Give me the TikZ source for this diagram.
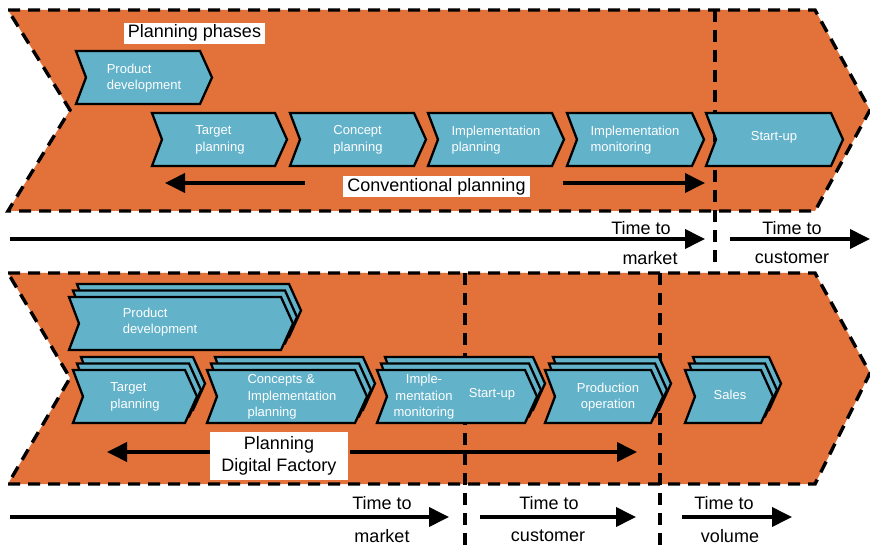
\documentclass[tikz,border=0pt]{standalone}
\usepackage{fontspec}
\setmainfont{Liberation Sans}
\usetikzlibrary{arrows.meta}

\definecolor{phaseorange}{RGB}{226,113,58}
\definecolor{phaseblue}{RGB}{98,178,202}

% chevron outline: left x, top y, width up to the tip, height
\newcommand\chevshape[4]{(#1,#2) -- ++({#3-12},0) -- ++(12,{#4/2}) -- ++(-12,{#4/2}) -- ++({-(#3-12)},0) -- ++(10,{-#4/2}) -- cycle}
% three chevrons stacked, the front one at the given place
\newcommand\stackchev[4]{%
  \path[chevbox] \chevshape{#1+8}{#2-13}{#3}{#4};
  \path[chevbox] \chevshape{#1+4}{#2-6.5}{#3}{#4};
  \path[chevbox] \chevshape{#1}{#2}{#3}{#4};}

\tikzset{
  stagearea/.style={fill=phaseorange, draw=black, line width=3.4pt, dash pattern=on 12pt off 8pt, line join=miter},
  milestone/.style={draw=black, line width=3.6pt, dash pattern=on 12pt off 8pt},
  chevbox/.style={fill=phaseblue, draw=black, line width=2.3pt, line join=miter},
  chevtext/.style={text=white, font=\fontsize{13}{16.5}\selectfont, align=left, inner sep=0pt},
  captionbox/.style={fill=white, font=\fontsize{18}{22}\selectfont, inner xsep=4pt, inner ysep=2pt, text height=13pt, text depth=4pt},
  bigarrow/.style={line width=3.8pt, -{Triangle[length=20pt,width=19pt]}},
  timetext/.style={font=\fontsize{18}{20}\selectfont, inner sep=0pt},
}

\begin{document}
\begin{tikzpicture}[x=1pt, y=-1pt]
\useasboundingbox (0,0) rectangle (870,545);

% ---------- conventional planning ----------
\path[stagearea] (8,10) -- (815,10) -- (870,110) -- (815,211) -- (8,211) -- (70,110) -- cycle;
\coordinate (m1a) at (715,10);
\coordinate (m1b) at (715,267);
\draw[milestone] (m1a) -- (m1b);

\node[captionbox] (phases) at (194.5,33.5) {Planning phases};

\path[chevbox] \chevshape{76}{51}{136}{53};
\node[chevtext] (pd1) at (144,78) {Product\\development};

\path[chevbox] \chevshape{152}{113}{135}{53};
\node[chevtext] (tp1) at (220,140) {Target\\planning};
\path[chevbox] \chevshape{290}{113}{136}{53};
\node[chevtext] (cp1) at (358,140) {Concept\\planning};
\path[chevbox] \chevshape{428}{113}{136}{53};
\node[chevtext] (ip1) at (496,140) {Implementation\\planning};
\path[chevbox] \chevshape{567}{113}{137}{53};
\node[chevtext] (im1) at (635,140) {Implementation\\monitoring};
\path[chevbox] \chevshape{706}{113}{137}{53};
\node[chevtext] (su1) at (774,137) {Start-up};

\node[captionbox] (conv) at (436.5,187) {Conventional planning};
\coordinate (ca1) at (305,183);
\coordinate (ca2) at (165,183);
\coordinate (ca3) at (563,183);
\coordinate (ca4) at (705,183);
\draw[bigarrow] (ca1) -- (ca2);
\draw[bigarrow] (ca3) -- (ca4);

\coordinate (t1a) at (10,239);
\coordinate (t1b) at (705,239);
\coordinate (t1c) at (730,239);
\coordinate (t1d) at (870,239);
\draw[bigarrow] (t1a) -- (t1b);
\draw[bigarrow] (t1c) -- (t1d);
\node[timetext] (ttm1) at (641,228) {Time to};
\node[timetext] (mk1) at (650,258) {market};
\node[timetext] (ttc1) at (792,228) {Time to};
\node[timetext] (cu1) at (792,258) {customer};

% ---------- digital factory planning ----------
\path[stagearea] (8,273) -- (815,273) -- (870,373) -- (815,484) -- (8,484) -- (70,378) -- cycle;
\coordinate (m2a) at (465,273);
\coordinate (m2b) at (465,545);
\coordinate (m3a) at (660,273);
\coordinate (m3b) at (660,545);
\draw[milestone] (m2a) -- (m2b);
\draw[milestone] (m3a) -- (m3b);

\stackchev{69}{297}{224}{53}
\node[chevtext] (pd2) at (160,322) {Product\\development};

\stackchev{73}{370}{124}{53}
\node[chevtext] (tp2) at (135,397) {Target\\planning};
\stackchev{207}{370}{160}{53}
\node[chevtext] (cp2) at (292,397) {Concepts \&\\Implementation\\planning};
\stackchev{377}{370}{160}{53}
\node[chevtext, align=center] (im2) at (424,397) {Imple-\\mentation\\monitoring};
\node[chevtext] (su2) at (492,394) {Start-up};
\stackchev{545}{370}{118}{53}
\node[chevtext, align=center] (po2) at (608,397) {Production\\operation};
\stackchev{685}{370}{88}{53}
\node[chevtext] (sa2) at (730,395) {Sales};

\node[fill=white, font=\fontsize{18}{22}\selectfont, align=center, minimum width=138pt, minimum height=48pt, inner sep=0pt] (pdf) at (279,456) {Planning\\Digital Factory};
\coordinate (da1) at (210,452);
\coordinate (da2) at (107,452);
\coordinate (da3) at (350,452);
\coordinate (da4) at (637,452);
\draw[bigarrow] (da1) -- (da2);
\draw[bigarrow] (da3) -- (da4);

\coordinate (t2a) at (10,517);
\coordinate (t2b) at (449,517);
\coordinate (t2c) at (480,517);
\coordinate (t2d) at (636,517);
\coordinate (t2e) at (682,517);
\coordinate (t2f) at (792,517);
\draw[bigarrow] (t2a) -- (t2b);
\draw[bigarrow] (t2c) -- (t2d);
\draw[bigarrow] (t2e) -- (t2f);
\node[timetext] (ttm2) at (382,503) {Time to};
\node[timetext] (mk2) at (382,536) {market};
\node[timetext] (ttc2) at (549,503) {Time to};
\node[timetext] (cu2) at (548,536) {customer};
\node[timetext] (ttv2) at (724,503) {Time to};
\node[timetext] (vo2) at (730,536) {volume};
\end{tikzpicture}
\end{document}
